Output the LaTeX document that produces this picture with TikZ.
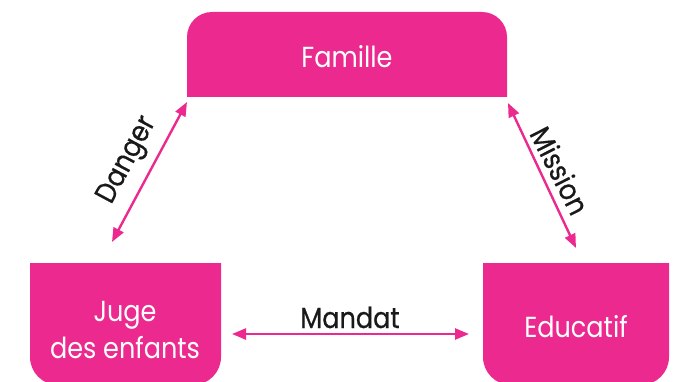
\documentclass[tikz,border=0pt]{standalone}
\usepackage{fontspec}
\setmainfont{Poppins}[FakeStretch=0.88]
\newfontfamily\labelfont{Poppins}[FakeStretch=0.88,FakeBold=0.6]
\usetikzlibrary{arrows.meta}
\definecolor{pinkc}{RGB}{236,41,142}
\definecolor{inkc}{RGB}{25,25,25}
\begin{document}
\begin{tikzpicture}[x=1pt,y=1pt,
  boxtext/.style={text=white,font=\fontsize{29}{37}\selectfont,inner sep=0pt,align=center},
  linktext/.style={text=inkc,font=\labelfont\fontsize{29}{37}\selectfont,inner sep=0pt},
  link/.style={draw=pinkc,line width=2.4pt,{Triangle[length=14pt,width=11pt]}-{Triangle[length=14pt,width=11pt]}}]
\useasboundingbox (0,0) rectangle (680,381);
% boxes
\fill[pinkc] (187,284) -- (187,344) arc(180:90:25) -- (482,369) arc(90:0:25) -- (507,284) -- cycle;
\fill[pinkc] (30,118) -- (221,118) -- (221,24) arc(0:-90:28) -- (58,-4) arc(270:180:28) -- cycle;
\fill[pinkc] (483,118) -- (669,118) -- (669,24) arc(0:-90:28) -- (511,-4) arc(270:180:28) -- cycle;
% texts
\node[boxtext,anchor=base] (famille) at (347,313) {Famille};
\node[boxtext,anchor=center] (juge) at (125,51) {Juge\\des enfants};
\node[boxtext,anchor=base] (educatif) at (576,44) {Educatif};
% connector ends
\coordinate (d1) at (112,139);
\coordinate (d2) at (187,279);
\coordinate (m1) at (508,278);
\coordinate (m2) at (576,133);
\coordinate (n1) at (232,47);
\coordinate (n2) at (469,47);
\draw[link] (d1) -- (d2);
\draw[link] (m1) -- (m2);
\draw[link] (n1) -- (n2);
% labels
\node[linktext,rotate=61.8] (danger) at (128,220.5) {Danger};
\node[linktext,rotate=-63] (mission) at (560,210.5) {Mission};
\node[linktext,anchor=base] (mandat) at (350,53) {Mandat};
\end{tikzpicture}
\end{document}
